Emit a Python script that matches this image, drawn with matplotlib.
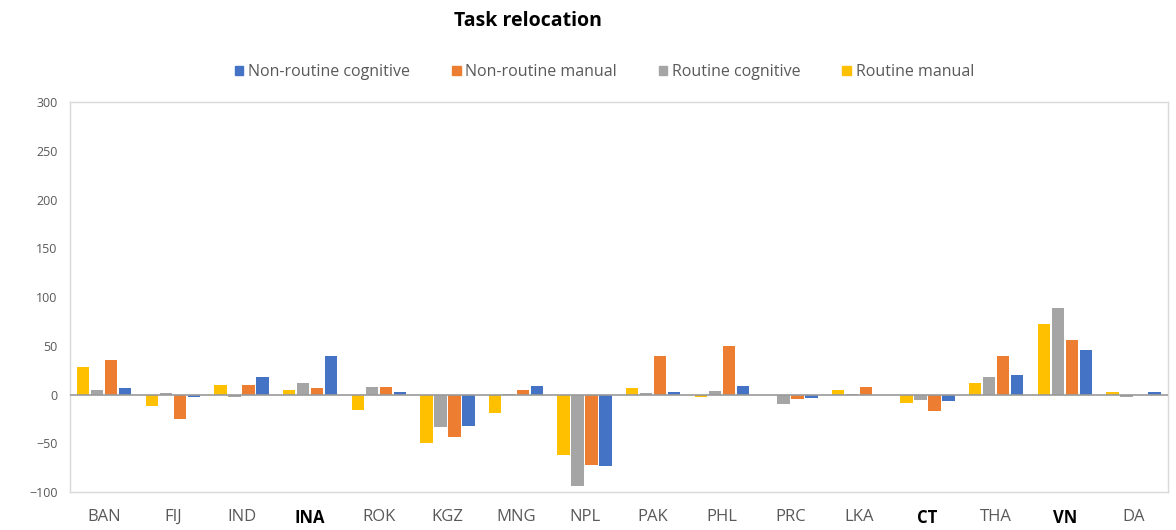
import numpy as np
import matplotlib.pyplot as plt
from matplotlib.patches import Patch

countries = ["BAN", "FIJ", "IND", "INA", "ROK", "KGZ", "MNG", "NPL",
             "PAK", "PHL", "PRC", "LKA", "CT", "THA", "VN", "DA"]
bold_labels = ["INA", "CT", "VN"]

# values, one list per task type
routine_manual = [28, -12, 10, 5, -16, -50, -19, -62, 7, -3, -1, 5, -9, 12, 72, 3]
routine_cognitive = [5, 2, -3, 12, 8, -33, 1, -94, 2, 4, -10, 1, -6, 18, 89, -3]
nonroutine_manual = [35, -25, 10, 7, 8, -44, 5, -72, 40, 50, -5, 8, -17, 40, 56, 0]
nonroutine_cognitive = [7, -3, 18, 40, 3, -32, 9, -73, 3, 9, -4, 0, -7, 20, 46, 3]

series = [
    ("Routine manual", routine_manual, "#FFC000"),
    ("Routine cognitive", routine_cognitive, "#A5A5A5"),
    ("Non-routine manual", nonroutine_manual, "#ED7D31"),
    ("Non-routine cognitive", nonroutine_cognitive, "#4472C4"),
]

plt.rcParams['font.family'] = ['Open Sans', 'DejaVu Sans']

fig = plt.figure(figsize=(11.76, 5.30), dpi=100)
ax = fig.add_axes([0.0595, 0.0717, 0.9335, 0.7358])

x = np.arange(len(countries))
pitch = 0.204
width = 0.18
for i, (name, vals, col) in enumerate(series):
    ax.bar(x + (i - 1.5) * pitch, vals, width, color=col, label=name, zorder=2)

ax.axhline(0, color="#9a9a9a", lw=1.2, zorder=3)
ax.set_xlim(-0.5, len(countries) - 0.5)
ax.set_ylim(-100, 300)
ax.set_yticks(np.arange(-100, 301, 50))
ax.tick_params(axis='y', length=0, labelsize=9, labelcolor="#595959", pad=9)
ax.set_xticks(x)
ax.set_xticklabels(countries)
ax.tick_params(axis='x', length=0, labelsize=12, pad=12)
for lab in ax.get_xticklabels():
    if lab.get_text() in bold_labels:
        lab.set_fontweight("bold")
        lab.set_color("black")
    else:
        lab.set_color("#595959")

for s in ax.spines.values():
    s.set_color("#d9d9d9")
    s.set_linewidth(1.0)

fig.text(0.449, 0.960, "Task relocation", ha="center", va="center",
         fontsize=14, fontweight="bold")

handles = [Patch(color=c) for _, _, c in series[::-1]]
labels = [n for n, _, _ in series[::-1]]
fig.legend(handles, labels, loc="center", bbox_to_anchor=(0.514, 0.864), ncol=4,
           frameon=False, fontsize=11.5, handlelength=0.55, handleheight=0.55,
           handletextpad=0.3, columnspacing=2.6, labelcolor="#595959")

fig.savefig("out.png", dpi=100, facecolor="white")
